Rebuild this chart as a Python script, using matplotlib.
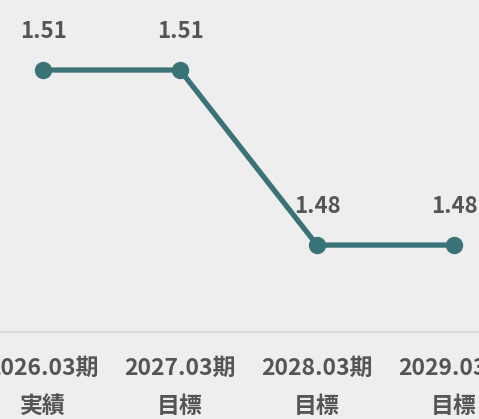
import matplotlib.pyplot as plt

plt.rcParams['font.family'] = ['Noto Sans CJK JP', 'DejaVu Sans']

periods = ['2026.03期', '2027.03期', '2028.03期', '2029.03期']
status = ['実績', '目標', '目標', '目標']
values = [1.51, 1.51, 1.48, 1.48]

line_color = '#3a7377'
text_color = '#555555'
bg = '#eeeeee'

fig = plt.figure(figsize=(4.79, 4.19), dpi=100, facecolor=bg)
ax = fig.add_axes([0, 0.2076, 1, 0.7924])
ax.set_facecolor(bg)

x = range(len(values))
ax.plot(x, values, color=line_color, linewidth=3.8, marker='o',
        markersize=11.5, solid_capstyle='round', zorder=3)

for xi, v in zip(x, values):
    ax.annotate(f'{v:.2f}', (xi, v), xytext=(0, 27.5), textcoords='offset points',
                ha='center', va='center', fontsize=16, fontweight='bold',
                color=text_color)

ax.set_xlim(-0.314, 3.182)
ax.set_ylim(1.4651, 1.522)

ax.set_xticks(list(x))
ax.set_xticklabels([f'{p}\n{s}' for p, s in zip(periods, status)],
                   fontsize=16.5, fontweight='bold', color=text_color,
                   linespacing=1.85)
ax.tick_params(axis='x', length=0, pad=18)
ax.set_yticks([])

for side in ['top', 'left', 'right']:
    ax.spines[side].set_visible(False)
ax.spines['bottom'].set_color('#d6d6d6')
ax.spines['bottom'].set_linewidth(1.2)

fig.savefig('out.png', dpi=100, facecolor=bg)
